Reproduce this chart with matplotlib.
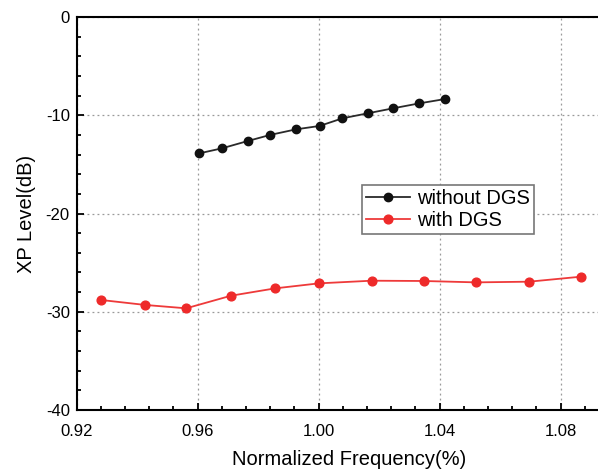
import matplotlib.pyplot as plt
from matplotlib.ticker import MultipleLocator

plt.rcParams['font.family'] = ['Liberation Sans', 'DejaVu Sans']
plt.rcParams['axes.unicode_minus'] = False

# without DGS
freq_without = [0.9605, 0.968, 0.9766, 0.984, 0.9926, 1.0003, 1.0079, 1.0163, 1.0247, 1.0333, 1.0418]
xp_without = [-13.88, -13.37, -12.62, -12.0, -11.43, -11.09, -10.31, -9.80, -9.29, -8.79, -8.35]

# with DGS
freq_with = [0.928, 0.9427, 0.9562, 0.971, 0.9856, 1.0001, 1.0175, 1.0349, 1.0521, 1.0696, 1.0868]
xp_with = [-28.80, -29.31, -29.65, -28.37, -27.62, -27.11, -26.84, -26.87, -27.01, -26.94, -26.43]

x_ticks = [0.92, 0.96, 1.00, 1.04, 1.08]
y_ticks = [0, -10, -20, -30, -40]

fig = plt.figure(figsize=(5.98, 4.73), dpi=100)
# axes runs past the right edge, like the cropped original
ax = fig.add_axes([76.7 / 598, 1 - 410 / 473, (621 - 76.7) / 598, (410 - 17) / 473])

ax.plot(freq_without, xp_without, '-', color='#2a2a2a', lw=1.3,
        marker='o', ms=6, mfc='#111111', mec='#111111', label='without DGS')
ax.plot(freq_with, xp_with, '-', color='#ee3a3a', lw=1.3,
        marker='o', ms=6.3, mfc='#ee2a2a', mec='#ee2a2a', label='with DGS')

ax.set_xlim(0.92, 1.10)
ax.set_ylim(-40, 0)
ax.set_xticks(x_ticks)
ax.set_xticklabels(['%.2f' % v for v in x_ticks])
ax.set_yticks(y_ticks)
ax.xaxis.set_minor_locator(MultipleLocator(0.008))
ax.yaxis.set_minor_locator(MultipleLocator(2))
ax.tick_params(which='both', direction='in', labelsize=12, width=1.3)
ax.tick_params(which='major', length=5)
ax.tick_params(which='minor', length=3)
ax.tick_params(axis='x', pad=10)
ax.tick_params(axis='y', pad=5)
for s in ax.spines.values():
    s.set_linewidth(1.5)
ax.grid(True, which='major', ls=(0, (1.5, 2.5)), color='#999999', lw=0.9)

ax.set_xlabel('Normalized Frequency(%)', fontsize=14.5, labelpad=8)
ax.set_ylabel('XP Level(dB)', fontsize=14.5, labelpad=7)

leg = ax.legend(loc='upper left', bbox_to_anchor=((362 - 76.7) / (621 - 76.7), 1 - (185 - 17) / 393),
                fontsize=14.5, fancybox=False, framealpha=1, edgecolor='#777777',
                handlelength=2.2, handletextpad=0.35, borderpad=0.2, labelspacing=0.15,
                borderaxespad=0)
leg.get_frame().set_linewidth(1.2)

fig.savefig('out.png', dpi=100)
